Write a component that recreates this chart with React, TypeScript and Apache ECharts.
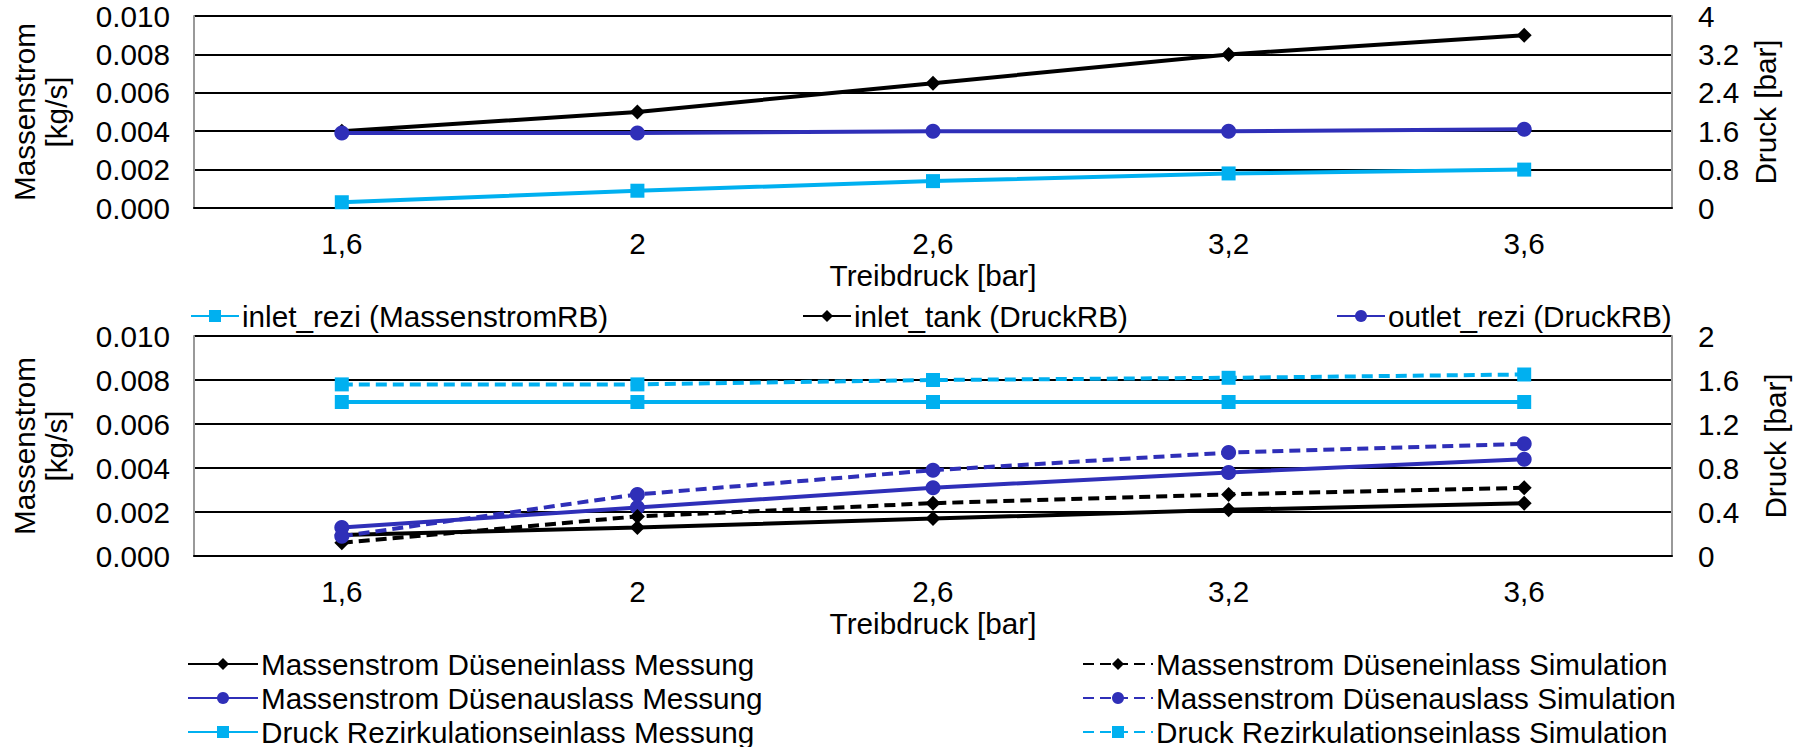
import React, { useEffect, useRef } from "react";
import * as echarts from "echarts";

const categories = ["1,6", "2", "2,6", "3,2", "3,6"];

// top chart
const inletReziMassenstrom = [0.0003, 0.0009, 0.0014, 0.0018, 0.002];
const inletTankDruck = [1.6, 2.0, 2.6, 3.2, 3.6];
const outletReziDruck = [1.56, 1.56, 1.6, 1.6, 1.64];

// bottom chart
const einlassMessung = [0.00095, 0.0013, 0.0017, 0.0021, 0.0024];
const einlassSimulation = [0.0006, 0.0018, 0.0024, 0.0028, 0.0031];
const auslassMessung = [0.0013, 0.0022, 0.0031, 0.0038, 0.0044];
const auslassSimulation = [0.0009, 0.0028, 0.0039, 0.0047, 0.0051];
const reziDruckMessung = [1.4, 1.4, 1.4, 1.4, 1.4];
const reziDruckSimulation = [1.56, 1.56, 1.6, 1.62, 1.65];

const FONT = "'Liberation Sans', Arial, sans-serif";
const FS = 29.7;
const BLACK = "#000000";
const BLUE = "#2F2FB8";
const LIGHT = "#00B0F0";

export default function App() {
  const ref = useRef<HTMLDivElement>(null);
  useEffect(() => {
    document.body.style.margin = "0";
    const chart = echarts.init(ref.current!, null, { renderer: "svg" });
    const txt = { fontFamily: FONT, fontSize: FS, color: "#000" };
    const grids = [
      { left: 188, right: 130, top: 16, height: 192 },
      { left: 188, right: 130, top: 336, height: 220 },
    ];
    const xAxis = [0, 1].map((i) => ({
      type: "category",
      gridIndex: i,
      data: categories,
      axisTick: { show: false },
      axisLine: { show: true, lineStyle: { color: "#000", width: 2 } },
      axisLabel: { ...txt, margin: 20 },
      name: "Treibdruck [bar]",
      nameLocation: "middle",
      nameGap: 52,
      nameTextStyle: { ...txt },
    }));
    const leftAxis = (i: number) => ({
      type: "value",
      gridIndex: i,
      min: 0,
      max: 0.01,
      interval: 0.002,
      axisLine: { show: true, lineStyle: { color: "#999", width: 2 } },
      axisTick: { show: false },
      splitLine: { show: true, lineStyle: { color: "#000", width: 2 } },
      axisLabel: { ...txt, margin: 24, formatter: (v: number) => v.toFixed(3) },
      name: "Massenstrom\n[kg/s]",
      nameLocation: "middle",
      nameGap: 122,
      nameTextStyle: { ...txt, lineHeight: 32 },
    });
    const rightAxis = (i: number, max: number, interval: number, gap: number) => ({
      type: "value",
      gridIndex: i,
      position: "right",
      min: 0,
      max,
      interval,
      axisLine: { show: true, lineStyle: { color: "#999", width: 2 } },
      axisTick: { show: false },
      splitLine: { show: false },
      axisLabel: { ...txt, margin: 26, formatter: (v: number) => String(+v.toFixed(1)) },
      name: "Druck [bar]",
      nameLocation: "middle",
      nameGap: gap,
      nameTextStyle: { ...txt },
    });
    const line = (
      name: string,
      data: number[],
      color: string,
      symbol: string,
      size: number,
      xi: number,
      yi: number,
      dashed = false
    ) => ({
      type: "line",
      name,
      data,
      xAxisIndex: xi,
      yAxisIndex: yi,
      symbol,
      symbolSize: size,
      color,
      itemStyle: { color },
      lineStyle: { color, width: 4, type: dashed ? [11, 6] : "solid" },
    });
    const n1 = "inlet_rezi (MassenstromRB)";
    const n2 = "inlet_tank (DruckRB)";
    const n3 = "outlet_rezi (DruckRB)";
    const b1 = "Massenstrom Düseneinlass Messung";
    const b2 = "Massenstrom Düsenauslass Messung";
    const b3 = "Druck Rezirkulationseinlass Messung";
    const b4 = "Massenstrom Düseneinlass Simulation";
    const b5 = "Massenstrom Düsenauslass Simulation";
    const b6 = "Druck Rezirkulationseinlass Simulation";
    const legendBase = {
      padding: 0,
      itemHeight: 15,
      itemGap: 4,
      height: 140,
      textStyle: { ...txt, lineHeight: 30, padding: [0, 0, 0, -2] },
    };
    chart.setOption({
      animation: false,
      backgroundColor: "#fff",
      grid: grids,
      xAxis,
      yAxis: [leftAxis(0), rightAxis(0, 4, 0.8, 72), leftAxis(1), rightAxis(1, 2, 0.4, 88)],
      legend: [
        { ...legendBase, data: [n1], left: 190, top: 301, itemWidth: 48 },
        { ...legendBase, data: [n2], left: 802, top: 301, itemWidth: 48 },
        { ...legendBase, data: [n3], left: 1336, top: 301, itemWidth: 48 },
        { ...legendBase, data: [b1, b2, b3], orient: "vertical", left: 187, top: 649, itemWidth: 70 },
        { ...legendBase, data: [b4, b5, b6], orient: "vertical", left: 1082, top: 649, itemWidth: 70 },
      ],
      series: [
        line(n1, inletReziMassenstrom, LIGHT, "rect", 14, 0, 0),
        line(n2, inletTankDruck, BLACK, "diamond", 15, 0, 1),
        line(n3, outletReziDruck, BLUE, "circle", 15, 0, 1),
        line(b1, einlassMessung, BLACK, "diamond", 15, 1, 2),
        line(b2, auslassMessung, BLUE, "circle", 15, 1, 2),
        line(b3, reziDruckMessung, LIGHT, "rect", 14, 1, 3),
        line(b4, einlassSimulation, BLACK, "diamond", 15, 1, 2, true),
        line(b5, auslassSimulation, BLUE, "circle", 15, 1, 2, true),
        line(b6, reziDruckSimulation, LIGHT, "rect", 14, 1, 3, true),
      ],
    });
    return () => chart.dispose();
  }, []);
  return (
    <div
      ref={ref}
      style={{ position: "absolute", left: 0, top: 0, width: 1802, height: 747 }}
    />
  );
}
